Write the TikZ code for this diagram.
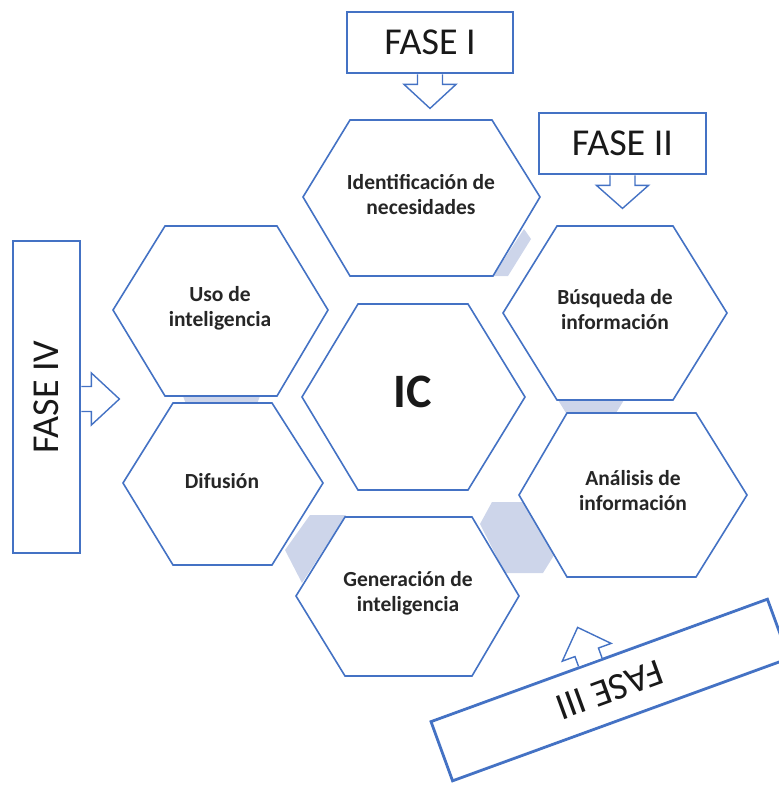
\documentclass[tikz,border=0pt]{standalone}
\usepackage{fontspec}
\setmainfont{Carlito}
\usetikzlibrary{calc}
\definecolor{hexblue}{RGB}{68,114,196}
\definecolor{hexshade}{RGB}{205,213,234}
\begin{document}
\begin{tikzpicture}[x=1pt,y=-1pt,
  hexline/.style={draw=hexblue, line width=1.6pt, fill=white, line join=miter},
  shadearea/.style={fill=hexshade, draw=none},
  hexlabel/.style={font=\fontsize{21.5}{25}\selectfont\bfseries, align=center, text=black!85},
  phasebox/.style={draw=hexblue, line width=2.8pt, fill=white, text=black!90,
    font=\fontsize{38}{42}\selectfont, inner sep=0pt},
  arrowline/.style={draw=hexblue, line width=1.4pt, fill=white, line join=miter},
  pics/blockarrow/.style 2 args={code={
    \draw[arrowline] (0,-12.5) -- (#1,-12.5) -- (#1,-26) -- (#1+#2,0)
      -- (#1,26) -- (#1,12.5) -- (0,12.5);}}
]
\useasboundingbox (0,0) rectangle (779,785);
\clip (0,0) rectangle (779,785);

% light background pieces showing between the hexagons
\fill[shadearea] (493,276) -- (524,229) -- (531,239) -- (508,276) -- cycle;
\fill[shadearea] (558,400) -- (624,400) -- (616,413) -- (566,413) -- cycle;
\fill[shadearea] (183,396) -- (260,396) -- (257,404) -- (186,404) -- cycle;
\fill[shadearea] (310,515) -- (346,515) -- (302,583) -- (285,550) -- cycle;
\fill[shadearea] (480,524) -- (492,502) -- (530,502) -- (556,552) -- (543,573) -- (505,573) -- cycle;

% hexagons
\draw[hexline] (303,197) -- (350,120) -- (492,120) -- (540,197) -- (493,276) -- (350,276) -- cycle;
\draw[hexline] (503,313) -- (557,226) -- (673,226) -- (727,313) -- (673,400) -- (557,400) -- cycle;
\draw[hexline] (113,310) -- (165,226) -- (277,226) -- (328,310) -- (277,396) -- (165,396) -- cycle;
\draw[hexline] (123,483) -- (173,403) -- (272,403) -- (323,483) -- (272,565) -- (173,565) -- cycle;
\draw[hexline] (302,397) -- (358,304) -- (468,304) -- (525,397) -- (468,490) -- (358,490) -- cycle;
\draw[hexline] (519,495) -- (567,413) -- (696,413) -- (747,495) -- (696,577) -- (567,577) -- cycle;
\draw[hexline] (296,596) -- (345,517) -- (472,517) -- (519,596) -- (472,676) -- (345,676) -- cycle;

% hexagon labels
\node[hexlabel] (ident) at (421,195) {Identificación de\\necesidades};
\node[hexlabel] (busq) at (615,310) {Búsqueda de\\información};
\node[hexlabel] (uso) at (220,308) {Uso de\\inteligencia};
\node[hexlabel] (difu) at (222,481) {Difusión};
\node[font=\fontsize{48}{52}\selectfont\bfseries, text=black!90] (ic) at (413,392) {IC};
\node[hexlabel] (anal) at (633,491) {Análisis de\\información};
\node[hexlabel] (gene) at (408,593) {Generación de\\inteligencia};

% phase boxes
\node[phasebox, minimum width=166, minimum height=61] (fase1) at (430,42.5) {FASE I};
\node[phasebox, minimum width=167, minimum height=61] (fase2) at (622.5,143.5) {FASE II};
\node[phasebox, minimum width=312, minimum height=67, rotate=90] (fase4) at (46.5,397) {FASE IV};
\node[phasebox, minimum width=358, minimum height=63, rotate=200] (fase3) at (610,690) {FASE III};

% block arrows leaving the phase boxes
\pic[rotate=-90] at (fase1.south) {blockarrow={10}{24}};
\pic[rotate=-90] at (fase2.south) {blockarrow={10}{23}};
\pic at ($(fase4.south)+(0,2)$) {blockarrow={10}{28}};
\pic[rotate=110] at ($(fase3.south)!9pt!(fase3.south east)$) {blockarrow={10.5}{26.5}};
\end{tikzpicture}
\end{document}
